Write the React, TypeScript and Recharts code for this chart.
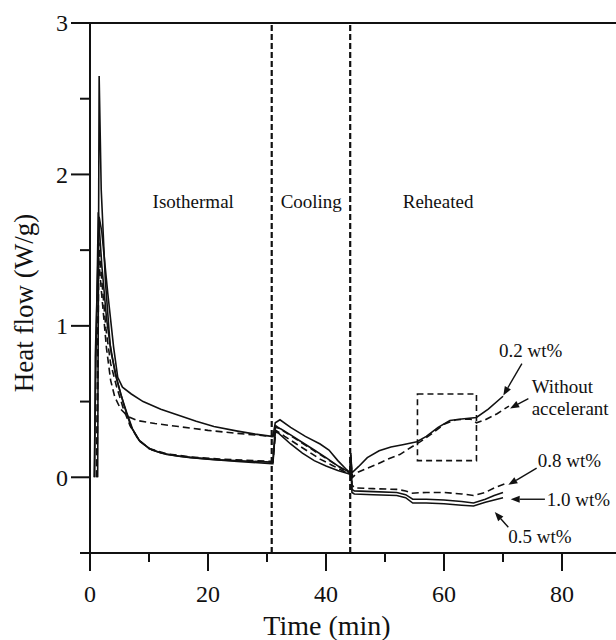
import React from "react"
import {
  LineChart, Line, XAxis, YAxis, ReferenceLine, ReferenceArea, ReferenceDot,
} from "recharts"

// time (min) / heat flow (W/g) for each sample
const t02 = [0.8, 0.9, 1.55, 2.0, 3.0, 4.0, 4.7, 5.5, 7, 9, 12, 15, 18, 21, 25, 28, 30.8, 31.0, 31.4, 32.2, 34, 36.5, 39, 40.5, 42, 43.5, 44.1, 44.2, 44.4, 45.5, 47, 49, 51, 53, 55.4, 57, 59, 61, 63, 65.5, 67.5, 70]
const hf02 = [0, 0.8, 1.72, 1.62, 1.22, 0.86, 0.66, 0.595, 0.55, 0.5, 0.45, 0.41, 0.37, 0.335, 0.305, 0.285, 0.27, 0.27, 0.36, 0.38, 0.33, 0.27, 0.22, 0.18, 0.11, 0.05, 0.03, 0.15, 0.03, 0.07, 0.13, 0.175, 0.2, 0.215, 0.235, 0.27, 0.33, 0.375, 0.385, 0.395, 0.45, 0.535]

const tWo = [1.1, 1.45, 2.0, 2.8, 3.5, 4.2, 5.2, 6.5, 8, 11, 15, 20, 25, 30.8, 31.0, 31.5, 33, 35, 37, 39, 41, 43, 44.1, 44.2, 44.5, 45.5, 47, 48.6, 50.5, 52.5, 54.5, 56, 58, 60, 62, 64.5, 65.5, 67, 69, 71]
const hfWo = [0, 1.45, 1.2, 0.85, 0.64, 0.53, 0.45, 0.4, 0.375, 0.355, 0.335, 0.31, 0.29, 0.27, 0.27, 0.34, 0.3, 0.25, 0.2, 0.15, 0.1, 0.05, 0.02, 0.12, 0.0, 0.035, 0.06, 0.085, 0.12, 0.15, 0.2, 0.235, 0.29, 0.35, 0.38, 0.385, 0.36, 0.38, 0.42, 0.47]

const t05 = [1.3, 1.55, 1.9, 2.6, 3.4, 4.3, 5.2, 6.2, 7.2, 8.3, 10, 12, 15, 20, 25, 30.8, 31.0, 31.4, 32, 34, 36, 38, 40, 42, 44.1, 44.2, 44.4, 44.8, 48, 52, 53.5, 54.7, 57, 60, 63, 65, 67, 68.5, 70]
const hf05 = [0, 2.65, 1.9, 1.3, 0.88, 0.68, 0.55, 0.43, 0.32, 0.245, 0.19, 0.16, 0.14, 0.12, 0.105, 0.09, 0.09, 0.3, 0.29, 0.22, 0.16, 0.11, 0.075, 0.045, 0.02, 0.1, -0.1, -0.11, -0.115, -0.12, -0.135, -0.17, -0.17, -0.175, -0.185, -0.19, -0.165, -0.15, -0.135]

const t10 = [0.7, 1.4, 2.0, 2.8, 3.6, 4.6, 5.8, 7, 8.5, 10.5, 13, 17, 22, 30.8, 31.0, 31.4, 32.3, 34, 36, 38, 40, 42, 44.1, 44.2, 44.4, 44.8, 48, 52, 53.5, 54.7, 57, 60, 63, 65, 67, 68.5, 70]
const hf10 = [0, 1.75, 1.4, 1.05, 0.82, 0.64, 0.47, 0.33, 0.235, 0.18, 0.15, 0.13, 0.115, 0.1, 0.1, 0.33, 0.32, 0.28, 0.23, 0.18, 0.13, 0.075, 0.03, 0.16, -0.08, -0.09, -0.095, -0.1, -0.115, -0.145, -0.145, -0.15, -0.16, -0.17, -0.145, -0.12, -0.1]

const t08 = [1.2, 1.5, 2.0, 2.7, 3.5, 4.5, 5.6, 6.8, 8.2, 10, 13, 17, 22, 30.8, 31.0, 31.5, 33, 35, 37, 39, 41, 43, 44.1, 44.2, 44.4, 44.8, 48, 52, 53.5, 54.5, 57, 60, 63, 65, 67, 68.5, 70.5]
const hf08 = [0, 1.55, 1.3, 0.98, 0.75, 0.6, 0.46, 0.34, 0.25, 0.19, 0.155, 0.135, 0.12, 0.105, 0.105, 0.31, 0.27, 0.22, 0.17, 0.12, 0.08, 0.04, 0.02, 0.14, -0.05, -0.07, -0.075, -0.08, -0.09, -0.105, -0.1, -0.1, -0.11, -0.12, -0.1, -0.07, -0.04]

const xTicks = [0, 10, 20, 30, 40, 50, 60, 70, 80]
const yTicks = [-0.5, 0, 0.5, 1, 1.5, 2, 2.5, 3]
const stageBounds = [30.8, 44.1]

const FONT = '"Liberation Serif", "Times New Roman", serif'
const INK = "#111"

const toPoints = (t: number[], h: number[]) => t.map((x, i) => ({ x, y: h[i] }))

const series = [
  { name: "0.2 wt%", data: toPoints(t02, hf02), dash: undefined },
  { name: "Without accelerant", data: toPoints(tWo, hfWo), dash: "7 4" },
  { name: "0.5 wt%", data: toPoints(t05, hf05), dash: undefined },
  { name: "1.0 wt%", data: toPoints(t10, hf10), dash: undefined },
  { name: "0.8 wt%", data: toPoints(t08, hf08), dash: "7 4" },
]

const XTick = ({ x, y, payload }: any) => {
  const v = payload.value
  const major = v % 20 === 0
  return (
    <g>
      <line x1={x} y1={y} x2={x} y2={y + (major ? 18 : 9)} stroke={INK} strokeWidth={2} />
      {major && (
        <text x={x} y={y + 49} textAnchor="middle" fontFamily={FONT} fontSize={24} fill={INK}>{v}</text>
      )}
    </g>
  )
}

const YTick = ({ x, y, payload }: any) => {
  const v = payload.value
  const major = Number.isInteger(v)
  return (
    <g>
      <line x1={x - (major ? 19 : 10)} y1={y} x2={x} y2={y} stroke={INK} strokeWidth={2} />
      {major && (
        <text x={x - 22} y={y} dy="0.35em" textAnchor="end" fontFamily={FONT} fontSize={24} fill={INK}>{v}</text>
      )}
    </g>
  )
}

const textShape = (lines: string[], anchor: "start" | "middle", size = 19) => (p: any) => (
  <text x={p.cx} y={p.cy} textAnchor={anchor} fontFamily={FONT} fontSize={size} fill={INK}>
    {lines.map((s, i) => (
      <tspan key={i} x={p.cx} dy={i === 0 ? "0.35em" : "1.15em"}>{s}</tspan>
    ))}
  </text>
)

const Arrow = (p: any) => {
  const { x1, y1, x2, y2 } = p
  const a = Math.atan2(y2 - y1, x2 - x1)
  const L = 9, W = 3.5
  const bx = x2 - L * Math.cos(a), by = y2 - L * Math.sin(a)
  const nx = -Math.sin(a) * W, ny = Math.cos(a) * W
  return (
    <g>
      <line x1={x1} y1={y1} x2={bx} y2={by} stroke={INK} strokeWidth={1.4} />
      <polygon points={`${x2},${y2} ${bx + nx},${by + ny} ${bx - nx},${by - ny}`} fill={INK} />
    </g>
  )
}

const stageLabels = [
  { text: "Isothermal", x: 17.5 },
  { text: "Cooling", x: 37.5 },
  { text: "Reheated", x: 59 },
]

const notes = [
  { lines: ["0.2 wt%"], x: 74.7, y: 0.84, anchor: "middle" as const, from: [73.2, 0.75], to: [70.05, 0.54] },
  { lines: ["Without", "accelerant"], x: 74.85, y: 0.6, anchor: "start" as const, from: [74.3, 0.52], to: [71.2, 0.455] },
  { lines: ["0.8 wt%"], x: 75.9, y: 0.11, anchor: "start" as const, from: [75.7, 0.06], to: [70.9, -0.05] },
  { lines: ["1.0 wt%"], x: 77.4, y: -0.145, anchor: "start" as const, from: [77.1, -0.145], to: [71.3, -0.145] },
  { lines: ["0.5 wt%"], x: 70.9, y: -0.39, anchor: "start" as const, from: [70.9, -0.33], to: [68.6, -0.23] },
]

export default function App() {
  return (
    <div style={{ position: "absolute", left: 0, top: 0, background: "#fff" }}>
      <LineChart width={616} height={640} margin={{ top: 23, right: 0, bottom: 0, left: 0 }}>
        <XAxis
          type="number" dataKey="x" domain={[0, 89.15]} allowDataOverflow
          ticks={xTicks} interval={0} tickSize={0} tickMargin={0} tickLine={false}
          tick={<XTick />} height={87}
          axisLine={{ stroke: INK, strokeWidth: 2 }}
          label={{
            content: ({ viewBox }: any) => (
              <text x={viewBox.x + 237} y={viewBox.y + 82} textAnchor="middle" fontFamily={FONT} fontSize={28} fill={INK}>Time (min)</text>
            ),
          }}
        />
        <YAxis
          type="number" domain={[-0.5, 3]} allowDataOverflow
          ticks={yTicks} interval={0} tickSize={0} tickMargin={0} tickLine={false}
          tick={<YTick />} width={90}
          axisLine={{ stroke: INK, strokeWidth: 2 }}
          label={{
            content: ({ viewBox }: any) => {
              const cx = 24, cy = viewBox.y + viewBox.height / 2 + 15
              return (
                <text x={cx} y={cy} transform={`rotate(-90 ${cx} ${cy})`} textAnchor="middle" dy="0.35em" fontFamily={FONT} fontSize={27} fill={INK}>Heat flow (W/g)</text>
              )
            },
          }}
        />
        <ReferenceLine y={3} stroke={INK} strokeWidth={2} />
        {stageBounds.map((b) => (
          <ReferenceLine key={b} x={b} stroke={INK} strokeWidth={2.2} strokeDasharray="6 3" />
        ))}
        <ReferenceArea x1={55.5} x2={65.5} y1={0.11} y2={0.55} fill="none" fillOpacity={0} stroke={INK} strokeWidth={1.6} strokeDasharray="6 4" />
        {series.map((s) => (
          <Line
            key={s.name} data={s.data} dataKey="y" type="linear" stroke={INK}
            strokeWidth={1.6} strokeDasharray={s.dash} dot={false} activeDot={false}
            isAnimationActive={false}
          />
        ))}
        {stageLabels.map((l) => (
          <ReferenceDot key={l.text} x={l.x} y={1.82} r={0} shape={textShape([l.text], "middle")} />
        ))}
        {notes.map((n) => (
          <ReferenceDot key={n.lines[0]} x={n.x} y={n.y} r={0} shape={textShape(n.lines, n.anchor)} />
        ))}
        {notes.map((n) => (
          <ReferenceLine
            key={"a" + n.lines[0]}
            segment={[{ x: n.from[0], y: n.from[1] }, { x: n.to[0], y: n.to[1] }]}
            shape={Arrow}
          />
        ))}
      </LineChart>
    </div>
  )
}
